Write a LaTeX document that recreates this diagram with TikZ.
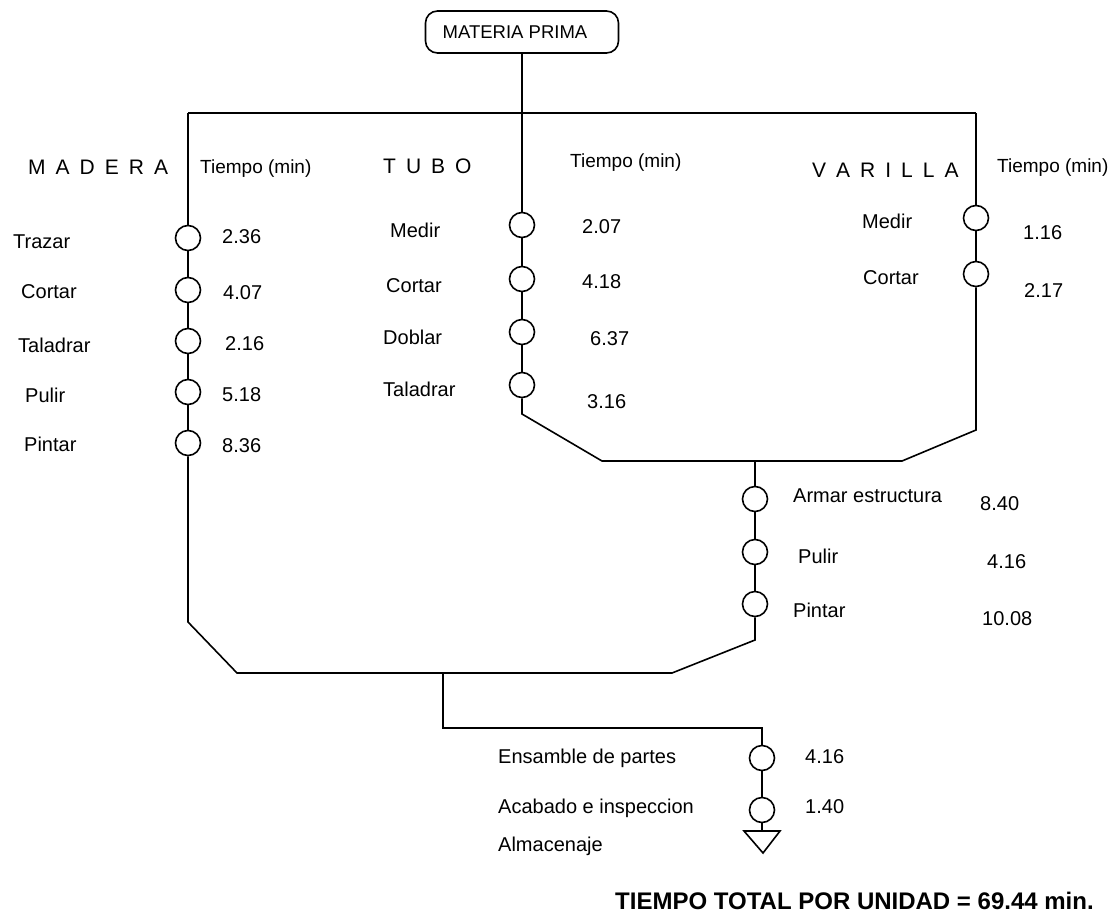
\documentclass[tikz,border=0pt]{standalone}
\usepackage{fontspec}
\setmainfont{Liberation Sans}
\newcommand\gapT{\hskip10pt}
\begin{document}
\begin{tikzpicture}[x=1pt,y=-1pt,
  op/.style={circle,draw,line width=1.6pt,minimum size=25pt,inner sep=0pt,fill=white},
  ln/.style={line width=1.6pt},
  lbl/.style={anchor=base west,inner sep=0pt,font=\fontsize{20}{24}\selectfont},
  tlbl/.style={anchor=base west,inner sep=0pt,font=\fontsize{19}{23}\selectfont},
  ttl/.style={anchor=base west,inner sep=0pt,font=\fontsize{21}{25}\selectfont},
  startbox/.style={draw,line width=1.6pt,rounded corners=12pt,minimum width=193pt,minimum height=42pt,inner sep=0pt,font=\fontsize{18.5}{22}\selectfont},
]
\useasboundingbox (0,0) rectangle (1118,916);

% start
\node[startbox] (mp) at (522,32) {MATERIA PRIMA\hspace*{14pt}};
\coordinate (tj) at (522,113);
\coordinate (tl) at (188,113);
\coordinate (tr) at (976,113);

% madera
\node[op] (m1) at (188,238) {};
\node[op] (m2) at (188,290) {};
\node[op] (m3) at (188,341) {};
\node[op] (m4) at (188,392) {};
\node[op] (m5) at (188,443) {};
\coordinate (lb1) at (188,622);
\coordinate (lb2) at (237,673);
\coordinate (lb3) at (672,673);
\coordinate (lb4) at (755,640);

% tubo
\node[op] (t1) at (522,225) {};
\node[op] (t2) at (522,279) {};
\node[op] (t3) at (522,332) {};
\node[op] (t4) at (522,385) {};
\coordinate (tb1) at (522,414);
\coordinate (tb2) at (602,461);
\coordinate (tb3) at (902,461);
\coordinate (tb4) at (976,430);

% varilla
\node[op] (v1) at (976,218) {};
\node[op] (v2) at (976,274) {};

% assembly
\coordinate (aj) at (755,461);
\node[op] (a1) at (755,499) {};
\node[op] (a2) at (755,552) {};
\node[op] (a3) at (755,604) {};

% final
\coordinate (bj) at (443,673);
\coordinate (bj2) at (443,728);
\coordinate (bj3) at (762,728);
\node[op] (e1) at (762,758) {};
\node[op] (e2) at (762,810) {};
\coordinate (tri) at (762,831);

% connectors
\draw[ln] (mp.south) -- (tj);
\draw[ln] (tl) -- (tr);
\draw[ln] (tl) -- (m1);
\draw[ln] (m1) -- (m2);
\draw[ln] (m2) -- (m3);
\draw[ln] (m3) -- (m4);
\draw[ln] (m4) -- (m5);
\draw[ln] (m5) -- (lb1) -- (lb2) -- (lb3) -- (lb4) -- (a3);
\draw[ln] (tj) -- (t1);
\draw[ln] (t1) -- (t2);
\draw[ln] (t2) -- (t3);
\draw[ln] (t3) -- (t4);
\draw[ln] (t4) -- (tb1) -- (tb2) -- (tb3) -- (tb4) -- (v2);
\draw[ln] (tr) -- (v1);
\draw[ln] (v1) -- (v2);
\draw[ln] (aj) -- (a1);
\draw[ln] (a1) -- (a2);
\draw[ln] (a2) -- (a3);
\draw[ln] (bj) -- (bj2) -- (bj3) -- (e1);
\draw[ln] (e1) -- (e2);
\draw[ln] (e2) -- (tri);
\draw[ln,line join=miter] (tri) ++(-18,0) -- ++(36,0) -- ++(-17,22) -- cycle;

% titles
\node[ttl] (tmad) at (28,174) {M\gapT A\gapT D\gapT E\gapT R\gapT A};
\node[ttl] (ttub) at (383,173) {T\gapT U\gapT B\gapT O};
\node[ttl] (tvar) at (812,177) {V\gapT A\gapT R\gapT I\gapT L\gapT L\gapT A};
\node[tlbl] (hm) at (200,173) {Tiempo (min)};
\node[tlbl] (ht) at (570,167) {Tiempo (min)};
\node[tlbl] (hv) at (997,172) {Tiempo (min)};

% madera labels
\node[lbl] at (13,248) {Trazar};
\node[lbl] at (222,243) {2.36};
\node[lbl] at (21,298) {Cortar};
\node[lbl] at (223,299) {4.07};
\node[lbl] at (18,352) {Taladrar};
\node[lbl] at (225,350) {2.16};
\node[lbl] at (25,402) {Pulir};
\node[lbl] at (222,401) {5.18};
\node[lbl] at (24,451) {Pintar};
\node[lbl] at (222,452) {8.36};

% tubo labels
\node[lbl] at (390,237) {Medir};
\node[lbl] at (582,233) {2.07};
\node[lbl] at (386,292) {Cortar};
\node[lbl] at (582,288) {4.18};
\node[lbl] at (383,344) {Doblar};
\node[lbl] at (590,345) {6.37};
\node[lbl] at (383,396) {Taladrar};
\node[lbl] at (587,408) {3.16};

% varilla labels
\node[lbl] at (862,228) {Medir};
\node[lbl] at (1023,239) {1.16};
\node[lbl] at (863,284) {Cortar};
\node[lbl] at (1024,297) {2.17};

% assembly labels
\node[lbl] at (793,502) {Armar estructura};
\node[lbl] at (980,510) {8.40};
\node[lbl] at (798,563) {Pulir};
\node[lbl] at (987,568) {4.16};
\node[lbl] at (793,617) {Pintar};
\node[lbl] at (982,625) {10.08};

% final labels
\node[lbl] at (498,763) {Ensamble de partes};
\node[lbl] at (805,763) {4.16};
\node[lbl] at (498,813) {Acabado e inspeccion};
\node[lbl] at (805,813) {1.40};
\node[lbl] at (498,851) {Almacenaje};

\node[anchor=base west,inner sep=0pt,font=\fontsize{24}{28}\selectfont\bfseries] (tot) at (615,909) {TIEMPO TOTAL POR UNIDAD = 69.44 min.};
\end{tikzpicture}
\end{document}
